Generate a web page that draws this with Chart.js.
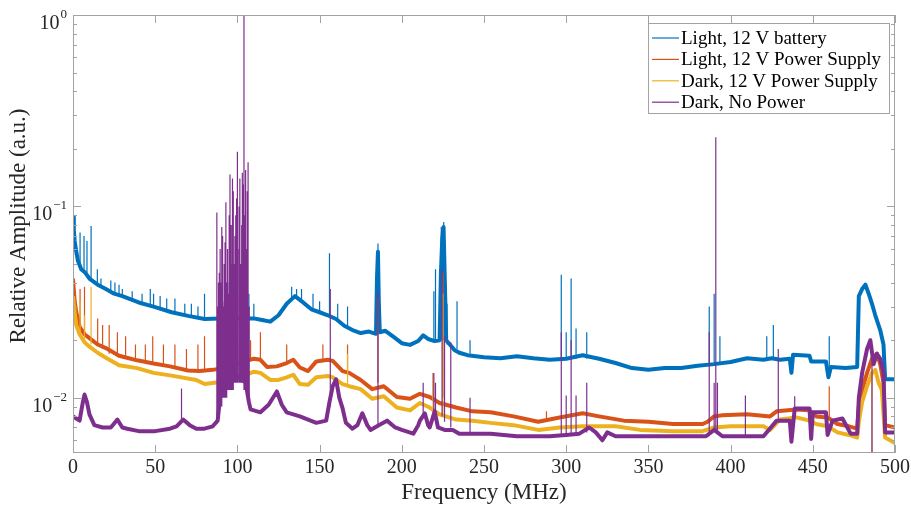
<!DOCTYPE html>
<html>
<head>
<meta charset="utf-8">
<script src="https://cdn.jsdelivr.net/npm/chart.js@4.4.1/dist/chart.umd.min.js"></script>
<style>
html, body { margin: 0; padding: 0; background: #fff; }
</style>
</head>
<body>
<canvas id="spectrum" width="911" height="513"></canvas>
<script>
// Series labels and colours (MATLAB default order)
const seriesNames = ['Light, 12 V battery', 'Light, 12 V Power Supply', 'Dark, 12 V Power Supply', 'Dark, No Power'];
const seriesColors = ['#0072BD', '#D95319', '#EDB120', '#7E2F8E'];

// Ticks
const xTicks = [0, 50, 100, 150, 200, 250, 300, 350, 400, 450, 500];
const yMajor = [0.01, 0.1, 1];
const yMinor = [0.006, 0.007, 0.008, 0.009, 0.02, 0.03, 0.04, 0.05, 0.06, 0.07, 0.08, 0.09,
                0.2, 0.3, 0.4, 0.5, 0.6, 0.7, 0.8, 0.9];

// Light, 12 V battery - smoothed level
const batteryFreq = [0, 0.5, 1, 2, 3, 5, 7.5, 10, 15, 20, 25, 30, 40, 50, 60, 70, 80, 90, 100, 110, 115, 120, 125, 130,
  135, 140, 145, 150, 155, 160, 165, 170, 175, 180, 184.3, 184.9, 185.5, 186, 186.6, 190, 195, 200, 205, 210,
  213, 216, 220, 223, 223.8, 224.6, 225.4, 226.2, 227, 232, 235, 240, 250, 260, 270, 280, 290, 300, 310, 320,
  330, 340, 350, 360, 370, 380, 390, 400, 410, 420, 425, 430, 436, 437, 438, 448, 449, 458, 459.5, 461, 470, 477,
  478, 480, 482, 484, 486, 488, 491, 493, 494, 500];
const batteryAmp = [0.088, 0.075, 0.066, 0.058, 0.052, 0.047, 0.045, 0.042, 0.039, 0.037, 0.035, 0.034, 0.0315, 0.0298,
  0.028, 0.0268, 0.0258, 0.026, 0.026, 0.026, 0.0255, 0.025, 0.027, 0.031, 0.034, 0.0315, 0.029, 0.028, 0.027, 0.0258,
  0.0238, 0.0226, 0.0218, 0.0222, 0.0216, 0.042, 0.058, 0.032, 0.022, 0.0224, 0.0208, 0.0193, 0.0189, 0.0198, 0.0212,
  0.0203, 0.0198, 0.02, 0.045, 0.068, 0.078, 0.04, 0.02, 0.0178, 0.0172, 0.0167, 0.0163, 0.0161, 0.0165, 0.0161, 0.0158,
  0.016, 0.0167, 0.016, 0.0152, 0.0143, 0.014, 0.0143, 0.0143, 0.0147, 0.015, 0.0154, 0.0161, 0.0158, 0.0161, 0.0158,
  0.016, 0.0135, 0.0168, 0.0166, 0.0155, 0.0155, 0.0128, 0.0145, 0.0143, 0.0145, 0.034, 0.037, 0.039, 0.035, 0.031,
  0.027, 0.0226, 0.019, 0.0125, 0.0125];
// [frequency, foot, top]
const batterySpikes = [[4.3, 0.05, 0.073], [6.7, 0.046, 0.07], [8.5, 0.045, 0.066], [11, 0.042, 0.079], [14.8, 0.04, 0.047],
  [17, 0.038, 0.042], [23, 0.036, 0.041], [25.5, 0.035, 0.04], [28, 0.034, 0.039], [30, 0.034, 0.037], [36, 0.032, 0.036],
  [42, 0.031, 0.035], [47, 0.03, 0.037], [49, 0.03, 0.035], [53, 0.029, 0.034], [57, 0.029, 0.033],
  [62, 0.028, 0.033], [68, 0.027, 0.031], [72, 0.027, 0.031], [76, 0.026, 0.03], [80, 0.026, 0.035], [92, 0.026, 0.032],
  [95, 0.026, 0.04], [97, 0.026, 0.038], [100, 0.026, 0.036], [104, 0.026, 0.039], [107, 0.026, 0.035], [110, 0.026, 0.031],
  [133, 0.033, 0.038], [136, 0.033, 0.037], [139, 0.032, 0.037], [146, 0.029, 0.035], [150, 0.028, 0.032],
  [156, 0.027, 0.057], [161, 0.025, 0.031], [167, 0.023, 0.03], [185.5, 0.022, 0.064], [219.5, 0.02, 0.036],
  [220.5, 0.02, 0.047], [224, 0.02, 0.078], [225.5, 0.02, 0.083], [227.5, 0.019, 0.031], [233.6, 0.018, 0.032],
  [241.5, 0.017, 0.02], [297, 0.016, 0.044], [300, 0.016, 0.022], [303, 0.016, 0.042], [306, 0.016, 0.023],
  [312.5, 0.016, 0.022], [387, 0.015, 0.03], [390, 0.015, 0.035], [393.5, 0.015, 0.021], [422, 0.016, 0.021],
  [426, 0.016, 0.024], [460, 0.014, 0.021]];

// Light, 12 V Power Supply
const lightSupplyFreq = [0, 1, 2, 4, 7, 10, 15, 20, 28, 39, 49, 59, 70, 77, 85, 95, 104, 110, 114, 118, 124, 130, 134,
  138, 143, 148, 155, 158, 164, 168, 175, 182, 189, 197, 205, 211, 217, 223, 233, 243, 254, 268, 283, 296, 310, 320,
  335, 350, 365, 383, 386, 390, 395, 410, 424, 428, 440, 448, 452, 459, 465, 472, 477, 478, 480, 483, 486, 489, 491,
  493, 494, 500];
const lightSupplyAmp = [0.042, 0.032, 0.028, 0.0235, 0.0215, 0.0205, 0.019, 0.0182, 0.0166, 0.0157, 0.0151, 0.0146,
  0.0139, 0.0138, 0.014, 0.0145, 0.0155, 0.016, 0.0158, 0.0145, 0.0146, 0.0152, 0.0158, 0.0144, 0.0138, 0.0155,
  0.0158, 0.0156, 0.0138, 0.0135, 0.0124, 0.0111, 0.0115, 0.0101, 0.0099, 0.0105, 0.0101, 0.0094, 0.0089, 0.0085,
  0.0084, 0.008, 0.0075, 0.0079, 0.0083, 0.008, 0.0076, 0.0075, 0.0073, 0.0073, 0.0075, 0.008, 0.0081, 0.0082,
  0.008, 0.0085, 0.0087, 0.0086, 0.008, 0.0079, 0.0073, 0.0071, 0.0069, 0.009, 0.011, 0.0135, 0.016, 0.017, 0.015,
  0.012, 0.0072, 0.007];
const lightSupplySpikes = [[4.3, 0.024, 0.037], [7, 0.022, 0.038], [15, 0.019, 0.026], [18, 0.018, 0.024],
  [22, 0.017, 0.024], [27, 0.017, 0.022], [32, 0.016, 0.021], [38, 0.016, 0.019], [44, 0.0155, 0.019],
  [48.5, 0.015, 0.021], [55, 0.015, 0.019], [62, 0.0145, 0.019], [69, 0.014, 0.018], [76, 0.014, 0.019],
  [80, 0.014, 0.021], [108, 0.0158, 0.02], [114, 0.016, 0.022], [130, 0.0152, 0.019], [152, 0.0156, 0.019],
  [167, 0.0135, 0.019], [185.5, 0.012, 0.033], [219, 0.01, 0.0135], [225, 0.01, 0.045], [288, 0.0075, 0.0085],
  [460, 0.008, 0.0115]];

// Dark, 12 V Power Supply
const darkSupplyFreq = [0, 1, 2, 4, 7, 10, 15, 20, 28, 39, 49, 59, 75, 80, 90, 95, 104, 110, 114, 120, 125, 130, 134,
  138, 143, 148, 155, 158, 164, 168, 175, 182, 189, 197, 205, 211, 217, 223, 233, 243, 254, 268, 283, 296, 310, 330,
  345, 365, 383, 390, 400, 420, 424, 430, 440, 448, 452, 459, 465, 472, 477, 478, 480, 483, 486, 488, 490, 492, 494, 500];
const darkSupplyAmp = [0.034, 0.028, 0.024, 0.0215, 0.0195, 0.0185, 0.0172, 0.0162, 0.0148, 0.0143, 0.0135, 0.0131,
  0.0124, 0.0118, 0.0121, 0.0124, 0.013, 0.0137, 0.0135, 0.0124, 0.0124, 0.0128, 0.0132, 0.0118, 0.0117, 0.0128,
  0.013, 0.0128, 0.0118, 0.0115, 0.0111, 0.0099, 0.0102, 0.0089, 0.0086, 0.0094, 0.0089, 0.0082, 0.0077, 0.0076,
  0.0074, 0.0072, 0.0068, 0.007, 0.0071, 0.0071, 0.0068, 0.0067, 0.0067, 0.007, 0.0071, 0.0071, 0.0068, 0.0077,
  0.0079, 0.0076, 0.0073, 0.0071, 0.0066, 0.0064, 0.0062, 0.0075, 0.0095, 0.0115, 0.0135, 0.014, 0.012, 0.011,
  0.0062, 0.0058];
const darkSupplySpikes = [[4.3, 0.022, 0.032], [7, 0.02, 0.027], [11, 0.019, 0.038], [167, 0.0115, 0.017],
  [219, 0.0089, 0.0125], [225, 0.0082, 0.035], [486, 0.0135, 0.0052]];

// Dark, No Power
const noPowerFreq = [0, 2, 4, 6, 7, 8.5, 10, 13, 18, 23, 27, 30, 33, 40, 50, 59, 63, 67, 71, 75, 80, 85, 88, 90, 95,
  100, 105, 107, 108, 114, 119, 124, 127, 130, 138, 148, 154, 156, 158, 160, 162, 164, 166, 170, 173, 176, 179, 181,
  186, 191, 196, 200, 207, 210, 211, 214, 216, 217, 220, 222, 226, 231, 235, 254, 270, 290, 300, 308, 314, 318, 322,
  325, 330, 360, 385, 390, 395, 420, 428, 436, 437, 439, 448, 449, 450, 458, 459, 462, 468, 471, 473, 477, 478, 480,
  483, 485, 487, 489, 491, 493, 494, 500];
const noPowerAmp = [0.008, 0.0078, 0.0076, 0.0095, 0.0104, 0.0095, 0.0082, 0.0072, 0.007, 0.007, 0.0077, 0.007, 0.0069,
  0.0067, 0.0067, 0.0069, 0.0071, 0.0077, 0.0072, 0.0069, 0.0069, 0.0071, 0.0076, 0.011, 0.013, 0.013, 0.012,
  0.0095, 0.0087, 0.0084, 0.0092, 0.0108, 0.0092, 0.0084, 0.008, 0.0074, 0.0076, 0.0095, 0.0115, 0.0125, 0.01, 0.0088,
  0.0074, 0.0069, 0.0072, 0.0083, 0.0072, 0.0068, 0.0072, 0.0076, 0.007, 0.0068, 0.0065, 0.0072, 0.0076, 0.0083,
  0.0072, 0.007, 0.0085, 0.007, 0.0068, 0.0068, 0.0065, 0.0065, 0.0063, 0.0063, 0.0064, 0.0065, 0.007, 0.0066, 0.006,
  0.0066, 0.0063, 0.0063, 0.0063, 0.0068, 0.0063, 0.0063, 0.0076, 0.0076, 0.0059, 0.0088, 0.0088, 0.0061, 0.0084,
  0.0084, 0.0064, 0.0076, 0.0078, 0.007, 0.0065, 0.0065, 0.01, 0.0135, 0.018, 0.02, 0.015, 0.017, 0.016, 0.0135,
  0.0066, 0.0066];
const noPowerSpikes = [[0.25, 0.008, 1.0], [66, 0.0077, 0.0112], [87.5, 0.0076, 0.093], [88.2, 0.008, 0.03],
  [88.5, 0.008, 0.04], [89, 0.009, 0.045], [89.5, 0.009, 0.06], [90, 0.009, 0.04], [90.5, 0.009, 0.078],
  [91, 0.01, 0.07], [91.5, 0.01, 0.03], [92, 0.01, 0.05], [92.5, 0.01, 0.065], [93, 0.01, 0.105], [93.5, 0.01, 0.04],
  [94, 0.011, 0.06], [94.7, 0.011, 0.035], [95, 0.011, 0.09], [95.5, 0.011, 0.147], [96.2, 0.011, 0.08],
  [96.7, 0.011, 0.05], [97, 0.011, 0.14], [97.5, 0.011, 0.12], [98, 0.012, 0.05], [98.5, 0.012, 0.07],
  [99, 0.012, 0.09], [99.5, 0.012, 0.11], [100, 0.012, 0.193], [100.8, 0.012, 0.06], [101, 0.012, 0.1],
  [101.5, 0.012, 0.14], [102.2, 0.012, 0.05], [102.6, 0.012, 0.08], [103, 0.012, 0.15], [103.5, 0.012, 0.13],
  [104, 0.011, 1.0], [104.5, 0.011, 0.09], [105, 0.011, 0.155], [105.7, 0.011, 0.06], [106, 0.01, 0.12],
  [106.5, 0.01, 0.17], [107.2, 0.009, 0.03], [156.5, 0.009, 0.037], [185.5, 0.0072, 0.036], [213, 0.008, 0.012],
  [219.5, 0.008, 0.0135], [220.5, 0.008, 0.012], [224.5, 0.008, 0.047], [226, 0.0075, 0.021], [229.8, 0.007, 0.0195],
  [241.5, 0.0065, 0.01], [297, 0.0064, 0.022], [300, 0.0064, 0.0103], [303, 0.0064, 0.02], [306, 0.0064, 0.0103],
  [312.5, 0.0066, 0.012], [387, 0.0063, 0.022], [390, 0.0068, 0.012], [391, 0.0068, 0.23], [392, 0.0068, 0.012],
  [409, 0.0063, 0.0103], [429, 0.0076, 0.018], [439, 0.008, 0.0102], [486, 0.015, 0.0052]];

function toPoints(freq, amp) {
    return freq.map((f, i) => ({ x: f, y: amp[i] }));
}

function spikePoints(list) {
    let pts = [];
    list.forEach(s => {
        pts.push({ x: s[0], y: s[1] }, { x: s[0], y: s[2] }, { x: s[0], y: null });
    });
    return pts;
}

function baseDataset(idx, points, order) {
    return {
        label: seriesNames[idx],
        data: points,
        borderColor: seriesColors[idx],
        borderWidth: 4,
        borderJoinStyle: 'round',
        pointRadius: 0,
        tension: 0,
        order: order
    };
}

function spikeDataset(idx, points, order) {
    return {
        label: seriesNames[idx] + ' spikes',
        data: points,
        borderColor: seriesColors[idx],
        borderWidth: 1.2,
        pointRadius: 0,
        spanGaps: false,
        order: order
    };
}

const FONT = '"Liberation Serif", "Times New Roman", serif';

const matlabAxes = {
    id: 'matlabAxes',
    afterDatasetsDraw(chart) {
        const { ctx, chartArea: a, scales } = chart;
        const x = scales.x, y = scales.y;
        ctx.save();

        // axes box
        ctx.strokeStyle = '#a3a3a3';
        ctx.lineWidth = 1;
        ctx.strokeRect(a.left + 0.5, a.top + 0.5, a.right - a.left - 1, a.bottom - a.top - 1);

        // ticks, pointing inward
        ctx.beginPath();
        xTicks.forEach(v => {
            const px = Math.round(x.getPixelForValue(v)) + 0.5;
            ctx.moveTo(px, a.bottom); ctx.lineTo(px, a.bottom - 8);
            ctx.moveTo(px, a.top); ctx.lineTo(px, a.top + 8);
        });
        yMajor.forEach(v => {
            const py = Math.round(y.getPixelForValue(v)) + 0.5;
            ctx.moveTo(a.left, py); ctx.lineTo(a.left + 8, py);
            ctx.moveTo(a.right, py); ctx.lineTo(a.right - 8, py);
        });
        yMinor.forEach(v => {
            const py = Math.round(y.getPixelForValue(v)) + 0.5;
            ctx.moveTo(a.left, py); ctx.lineTo(a.left + 4, py);
            ctx.moveTo(a.right, py); ctx.lineTo(a.right - 4, py);
        });
        ctx.stroke();

        // tick labels
        ctx.fillStyle = '#262626';
        ctx.font = '20px ' + FONT;
        ctx.textAlign = 'center';
        ctx.textBaseline = 'top';
        xTicks.forEach(v => {
            ctx.fillText(String(v), x.getPixelForValue(v), a.bottom + 5);
        });

        ctx.textAlign = 'left';
        ctx.textBaseline = 'alphabetic';
        yMajor.forEach(v => {
            const e = Math.round(Math.log10(v));
            const sup = e === 0 ? '0' : '\u2212' + (-e);
            const py = y.getPixelForValue(v);
            ctx.font = '13px ' + FONT;
            const supW = ctx.measureText(sup).width;
            ctx.font = '20px ' + FONT;
            const baseW = ctx.measureText('10').width;
            const x0 = a.left - 7 - supW - baseW;
            ctx.fillText('10', x0, py + 14);
            ctx.font = '13px ' + FONT;
            ctx.fillText(sup, x0 + baseW + 1, py + 3);
        });

        // axis titles
        ctx.font = '23px ' + FONT;
        ctx.textAlign = 'center';
        ctx.textBaseline = 'middle';
        ctx.fillText('Frequency (MHz)', (a.left + a.right) / 2, 493);
        ctx.save();
        ctx.translate(19, 226);
        ctx.rotate(-Math.PI / 2);
        ctx.fillText('Relative Amplitude (a.u.)', 0, 0);
        ctx.restore();

        // legend box
        const lx = 648, ly = 23, lw = 242, lh = 91;
        ctx.fillStyle = '#ffffff';
        ctx.fillRect(lx, ly, lw, lh);
        ctx.strokeStyle = '#a3a3a3';
        ctx.strokeRect(lx + 0.5, ly + 0.5, lw - 1, lh - 1);
        ctx.font = '19px ' + FONT;
        ctx.textAlign = 'left';
        ctx.textBaseline = 'middle';
        seriesNames.forEach((name, i) => {
            const cy = 38 + i * 21.4;
            ctx.strokeStyle = seriesColors[i];
            ctx.lineWidth = 1.2;
            ctx.beginPath();
            ctx.moveTo(652, cy); ctx.lineTo(679, cy);
            ctx.stroke();
            ctx.fillStyle = '#000000';
            ctx.fillText(name, 681, cy + 1);
        });

        ctx.restore();
    }
};

new Chart(document.getElementById('spectrum').getContext('2d'), {
    type: 'line',
    data: {
        datasets: [
            baseDataset(0, toPoints(batteryFreq, batteryAmp), 8),
            spikeDataset(0, spikePoints(batterySpikes), 7),
            baseDataset(1, toPoints(lightSupplyFreq, lightSupplyAmp), 6),
            spikeDataset(1, spikePoints(lightSupplySpikes), 5),
            baseDataset(2, toPoints(darkSupplyFreq, darkSupplyAmp), 4),
            spikeDataset(2, spikePoints(darkSupplySpikes), 3),
            baseDataset(3, toPoints(noPowerFreq, noPowerAmp), 2),
            spikeDataset(3, spikePoints(noPowerSpikes), 1)
        ]
    },
    options: {
        responsive: false,
        animation: false,
        layout: {
            padding: { left: 73, right: 16, top: 15, bottom: 60 }
        },
        plugins: {
            legend: { display: false },
            tooltip: { enabled: false }
        },
        scales: {
            x: { type: 'linear', min: 0, max: 500, display: false },
            y: { type: 'logarithmic', min: 0.00515, max: 1, display: false }
        }
    },
    plugins: [matlabAxes]
});
</script>
</body>
</html>
